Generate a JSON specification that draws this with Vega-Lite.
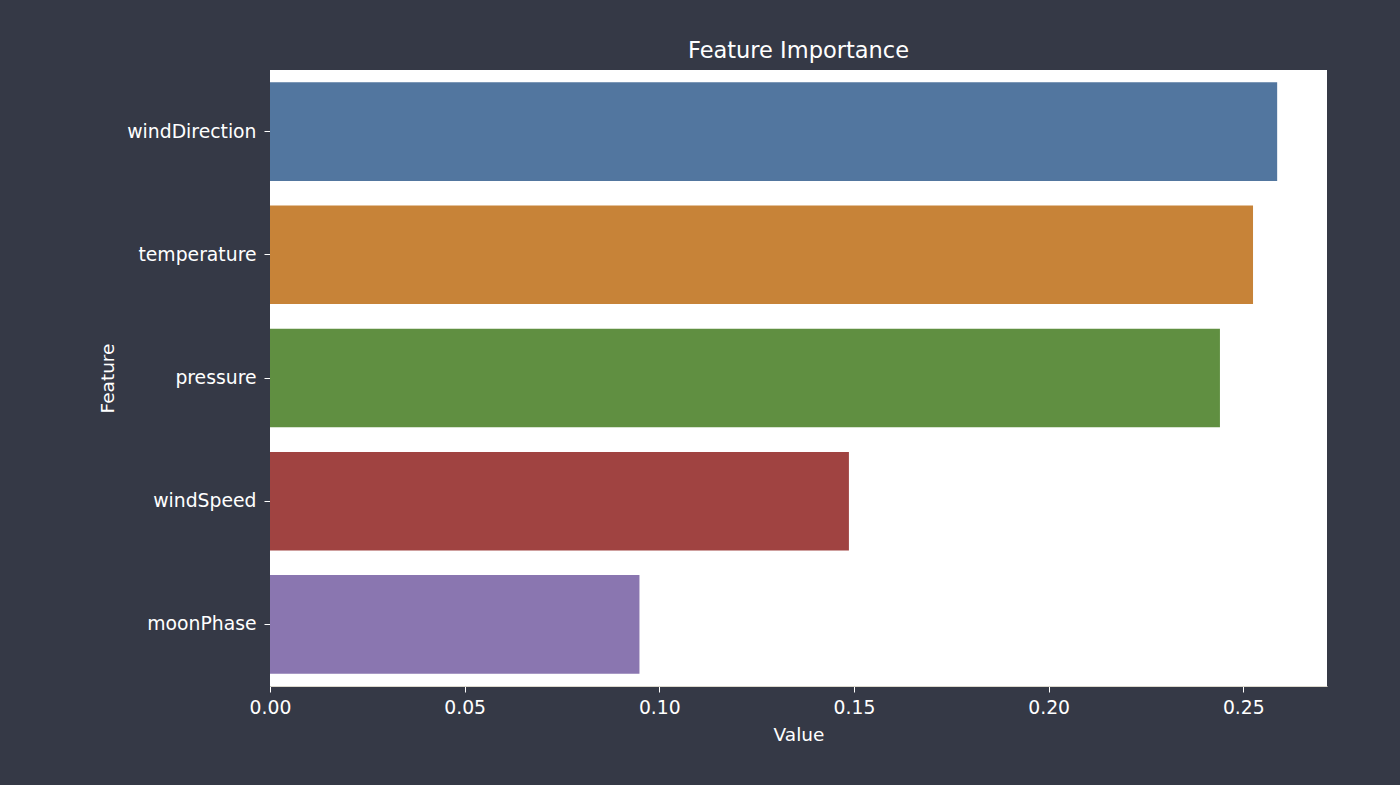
{
  "$schema": "https://vega.github.io/schema/vega-lite/v6.json",
  "autosize": {"type": "none"},
  "width": 1057,
  "height": 616,
  "padding": {"left": 270, "top": 70, "right": 73, "bottom": 99},
  "background": "#353946",
  "title": {"text": "Feature Importance", "color": "#ffffff", "font": "DejaVu Sans", "fontSize": 22.5, "fontWeight": "normal", "anchor": "middle", "offset": 8},
  "config": {
    "view": {"fill": "#ffffff", "stroke": null},
    "axis": {"labelFont": "DejaVu Sans", "titleFont": "DejaVu Sans", "labelColor": "#ffffff", "titleColor": "#ffffff", "labelFontSize": 18.8, "titleFontSize": 18.5, "titleFontWeight": "normal", "tickColor": "#ffffff", "tickSize": 6, "grid": false, "labelFlush": false}
  },
  "data": {"values": [
    {"Feature": "windDirection", "Value": 0.2587},
    {"Feature": "temperature", "Value": 0.2525},
    {"Feature": "pressure", "Value": 0.2440},
    {"Feature": "windSpeed", "Value": 0.1487},
    {"Feature": "moonPhase", "Value": 0.0949}
  ]},
  "mark": {"type": "bar"},
  "encoding": {
    "y": {"field": "Feature", "type": "nominal", "sort": null,
      "scale": {"paddingInner": 0.2, "paddingOuter": 0.1},
      "axis": {"title": "Feature", "domain": false, "labelPadding": 8, "titlePadding": 9}},
    "x": {"field": "Value", "type": "quantitative",
      "scale": {"domain": [0, 0.2715], "nice": false, "zero": true},
      "axis": {"title": "Value", "values": [0, 0.05, 0.1, 0.15, 0.2, 0.25], "format": ".2f", "domain": true, "domainColor": "#dcd8cc", "labelPadding": 6, "titlePadding": 9}},
    "color": {"field": "Feature", "type": "nominal", "sort": null, "legend": null,
      "scale": {"domain": ["windDirection", "temperature", "pressure", "windSpeed", "moonPhase"], "range": ["#52769F", "#C78338", "#608F41", "#A04341", "#8A76B0"]}}
  }
}
